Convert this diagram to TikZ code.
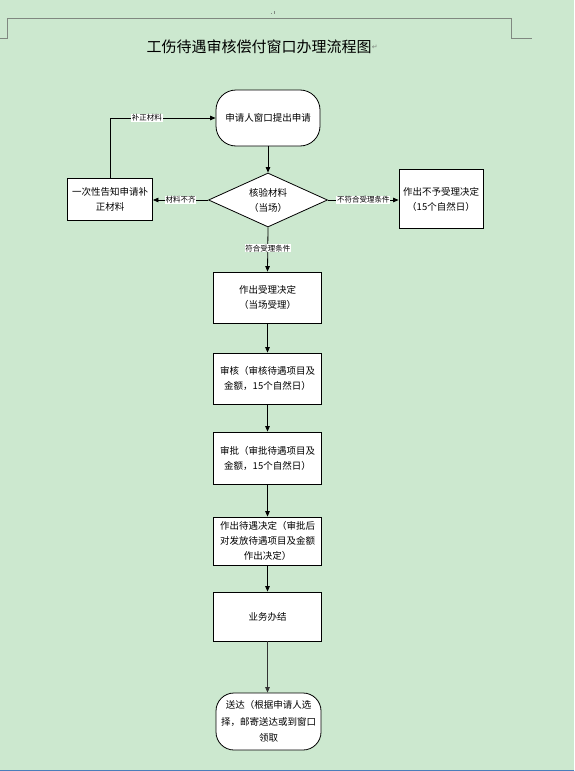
\documentclass[tikz,border=0pt]{standalone}
\usepackage{fontspec}
\newfontfamily\cjk{Noto Sans CJK SC}
\newfontfamily\dejavu{DejaVu Sans}
\usetikzlibrary{shapes.geometric,arrows.meta}
\definecolor{bggreen}{RGB}{204,232,207}
\definecolor{hdrgray}{RGB}{128,136,128}
\definecolor{edgeblue}{RGB}{74,126,187}
\tikzset{
  boxtext/.style={font=\cjk\fontsize{9.5}{15}\selectfont, align=center, inner sep=0pt},
  stepbox/.style={boxtext, draw=black, line width=0.8pt, fill=white, minimum width=108pt, minimum height=51pt},
  termbox/.style={boxtext, draw=black, line width=0.8pt, fill=white, rounded corners=20pt, minimum width=104pt, minimum height=56pt},
  decbox/.style={boxtext, draw=black, line width=0.8pt, fill=white, diamond, aspect=2, minimum width=119pt, minimum height=54pt},
  lbl/.style={font=\cjk\fontsize{7.5}{8}\selectfont, fill=white, inner sep=0.6pt},
  flow/.style={draw=black, line width=0.8pt, -{Triangle[length=5.5pt,width=4.5pt]}}
}
\begin{document}
\begin{tikzpicture}[x=1pt,y=-1pt]
\fill[bggreen] (0,0) rectangle (574,771);
\useasboundingbox (0,0) rectangle (574,771);
% header frame
\draw[hdrgray, line width=1pt] (0,38) -- (7,38) -- (7,18) -- (511,18) -- (511,38) -- (532,38);
\fill[hdrgray] (270.5,13) rectangle (271.5,14);
\fill[hdrgray] (273.5,11) rectangle (274.5,14);
\draw[edgeblue, line width=1.2pt] (0,770.4) -- (574,770.4);
% title
\node[font=\cjk\fontsize{15}{17}\selectfont, inner sep=0pt] (title) at (259,47) {工伤待遇审核偿付窗口办理流程图};
\node[font=\dejavu\fontsize{7}{8}\selectfont, text=hdrgray, inner sep=0pt, anchor=west] (pmark) at (title.east) {↵};
% nodes
\node[termbox] (start) at (268,118) {申请人窗口提出申请};
\node[decbox] (check) at (268,200) {核验材料\\（当场）};
\node[stepbox, minimum width=85pt, minimum height=42pt] (notify) at (110,199) {一次性告知申请补\\正材料};
\node[stepbox, minimum width=84pt, minimum height=59pt] (reject) at (441,199) {作出不予受理决定\\（15个自然日）};
\node[stepbox] (accept) at (267.5,297.5) {作出受理决定\\（当场受理）};
\node[stepbox] (review) at (267.5,378.5) {审核（审核待遇项目及\\金额，15个自然日）};
\node[stepbox, minimum height=52pt] (approve) at (267.5,458) {审批（审批待遇项目及\\金额，15个自然日）};
\node[stepbox, minimum height=48pt] (decide) at (267.5,541) {作出待遇决定（审批后\\对发放待遇项目及金额\\作出决定）};
\node[stepbox, minimum height=49pt] (done) at (267.5,616.5) {业务办结};
\node[termbox, minimum width=105pt, minimum height=57pt, rounded corners=18pt, font=\cjk\fontsize{9.5}{16.5}\selectfont] (finish) at (268.5,721.5) {送达（根据申请人选\\择，邮寄送达或到窗口\\领取};
% connectors
\draw[flow] (start.south -| check.north) -- (check.north);
\draw[flow] (check.west) -- node[lbl] (l1) {材料不齐} (notify.east |- check.west);
\draw[flow] (check.east) -- node[lbl] (l2) {不符合受理条件} (reject.west |- check.east);
\coordinate (fbturn) at (notify.north |- start.west);
\draw[flow] (notify.north) -- (fbturn) -- node[lbl, pos=0.35] (l3) {补正材料} (start.west);
\draw[flow] (check.south) -- node[lbl, pos=0.47] (l4) {符合受理条件} (accept.north);
\draw[flow] (accept) -- (review);
\draw[flow] (review) -- (approve);
\draw[flow] (approve) -- (decide);
\draw[flow] (decide) -- (done);
\draw[flow, draw=black!80] (done.south) -- (finish.north -| done.south);
\end{tikzpicture}
\end{document}
